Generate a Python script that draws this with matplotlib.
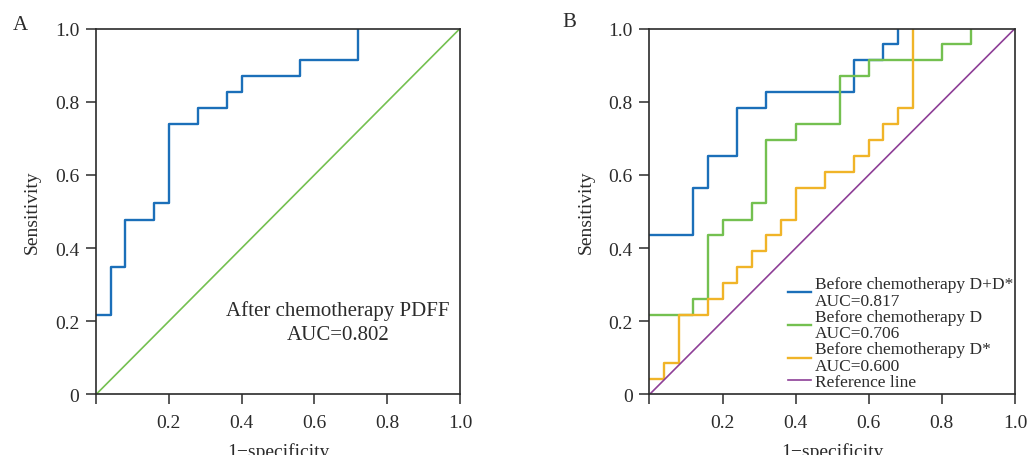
"""ROC curves: after-chemotherapy PDFF (A) and before-chemotherapy D / D* (B)."""

import matplotlib

matplotlib.use("Agg")
import matplotlib.pyplot as plt

plt.rcParams["font.family"] = ["Liberation Serif", "DejaVu Serif"]

# panel A: after chemotherapy PDFF
fpr_pdff = [0.0, 0.04, 0.08, 0.16, 0.20, 0.28, 0.36, 0.40, 0.56, 0.72]
tpr_pdff = [0.217, 0.348, 0.478, 0.522, 0.739, 0.783, 0.826, 0.870, 0.913, 1.0]

# panel B: before chemotherapy
fpr_dd = [0.0, 0.12, 0.16, 0.24, 0.32, 0.56, 0.64, 0.68]
tpr_dd = [0.435, 0.565, 0.652, 0.783, 0.826, 0.913, 0.957, 1.0]

fpr_d = [0.0, 0.12, 0.16, 0.20, 0.28, 0.32, 0.40, 0.52, 0.60, 0.80, 0.88]
tpr_d = [0.217, 0.261, 0.435, 0.478, 0.522, 0.696, 0.739, 0.870, 0.913, 0.957, 1.0]

fpr_dstar = [0.0, 0.04, 0.08, 0.16, 0.20, 0.24, 0.28, 0.32, 0.36, 0.40,
             0.48, 0.56, 0.60, 0.64, 0.68, 0.72]
tpr_dstar = [0.043, 0.087, 0.217, 0.261, 0.304, 0.348, 0.391, 0.435, 0.478,
             0.565, 0.609, 0.652, 0.696, 0.739, 0.783, 1.0]

diag = [0.0, 1.0]
x_ticks = [0.0, 0.2, 0.4, 0.6, 0.8, 1.0]
x_tick_labels = ["", "0.2", "0.4", "0.6", "0.8", "1.0"]
y_tick_labels = ["0", "0.2", "0.4", "0.6", "0.8", "1.0"]

BLUE = "#1b6fb9"
GREEN = "#74c050"
ORANGE = "#f0b428"
PURPLE = "#8e3f97"
INK = "#2b2b2b"


def _style(ax):
    ax.set_xlim(0, 1)
    ax.set_ylim(0, 1)
    ax.set_xticks(x_ticks)
    ax.set_xticklabels(x_tick_labels)
    ax.set_yticks(x_ticks)
    ax.set_yticklabels(y_tick_labels)
    ax.tick_params(direction="out", length=7, width=1.1, colors=INK,
                   labelsize=14, pad=5)
    ax.tick_params(axis="x", pad=7)
    for spine in ax.spines.values():
        spine.set_color(INK)
        spine.set_linewidth(1.2)
    ax.set_xlabel("1\u2212specificity", fontsize=14, color=INK, labelpad=8)
    ax.set_ylabel("Sensitivity", fontsize=14, color=INK, labelpad=10)


fig = plt.figure(figsize=(10.28, 4.56), dpi=100)
ax_a = fig.add_axes([0.0934, 0.1327, 0.3541, 0.8026])
ax_b = fig.add_axes([0.6318, 0.1327, 0.3555, 0.8026])

# A
ax_a.plot(diag, diag, color=GREEN, lw=1.2)
ax_a.step(fpr_pdff, tpr_pdff, where="post", color=BLUE, lw=1.7)
ax_a.text(0.665, 0.198, "After chemotherapy PDFF\nAUC=0.802", transform=ax_a.transAxes,
          ha="center", va="center", fontsize=15, color=INK, linespacing=1.35)
_style(ax_a)

# B
ax_b.step(fpr_dd, tpr_dd, where="post", color=BLUE, lw=1.7,
          label="Before chemotherapy D+D*\nAUC=0.817")
ax_b.step(fpr_d, tpr_d, where="post", color=GREEN, lw=1.7,
          label="Before chemotherapy D\nAUC=0.706")
ax_b.step(fpr_dstar, tpr_dstar, where="post", color=ORANGE, lw=1.7,
          label="Before chemotherapy D*\nAUC=0.600")
ax_b.plot(diag, diag, color=PURPLE, lw=1.2, label="Reference line")
_style(ax_b)
leg = ax_b.legend(loc="lower left", bbox_to_anchor=(0.378, 0.012), frameon=False,
                  fontsize=12.5, handlelength=1.35, handletextpad=0.2,
                  labelspacing=0.0, borderpad=0, borderaxespad=0)
for t in leg.get_texts():
    t.set_color(INK)
    t.set_linespacing(1.05)

fig.text(0.012, 0.945, "A", fontsize=15, color=INK, ha="left", va="center")
fig.text(0.547, 0.95, "B", fontsize=15, color=INK, ha="left", va="center")

fig.savefig("out.png", dpi=100)
